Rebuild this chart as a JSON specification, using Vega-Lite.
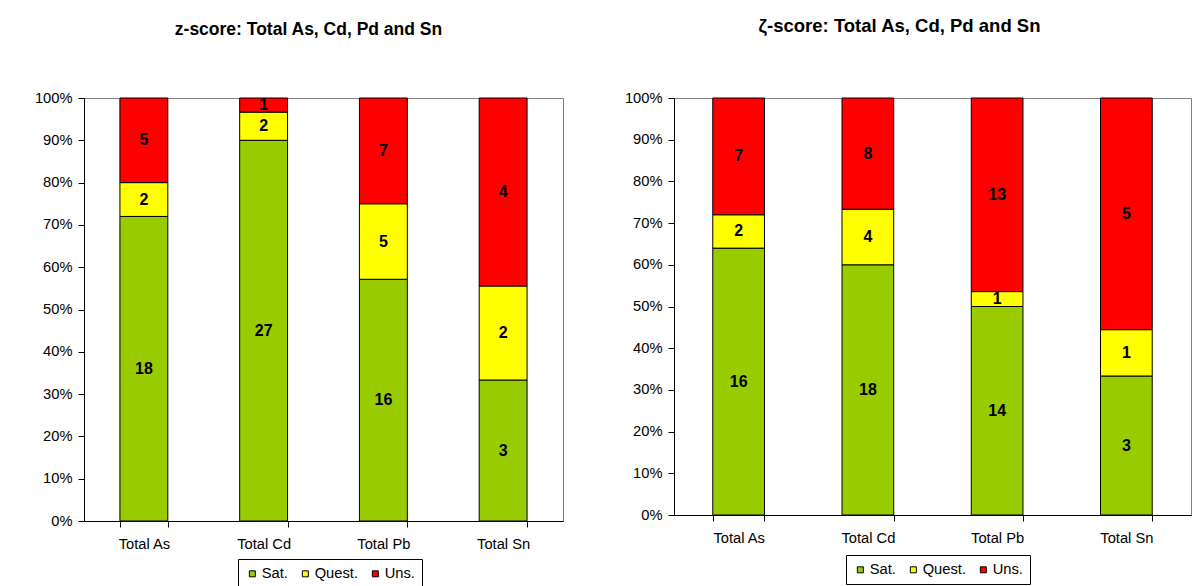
{
  "$schema": "https://vega.github.io/schema/vega-lite/v6.json",
  "padding": {"left": 33, "top": 16, "right": 0, "bottom": 0},
  "background": "white",
  "datasets": {
    "z": [
      {"cat": "Total As", "status": "Sat.", "cls": 1, "n": 18},
      {"cat": "Total As", "status": "Quest.", "cls": 2, "n": 2},
      {"cat": "Total As", "status": "Uns.", "cls": 3, "n": 5},
      {"cat": "Total Cd", "status": "Sat.", "cls": 1, "n": 27},
      {"cat": "Total Cd", "status": "Quest.", "cls": 2, "n": 2},
      {"cat": "Total Cd", "status": "Uns.", "cls": 3, "n": 1},
      {"cat": "Total Pb", "status": "Sat.", "cls": 1, "n": 16},
      {"cat": "Total Pb", "status": "Quest.", "cls": 2, "n": 5},
      {"cat": "Total Pb", "status": "Uns.", "cls": 3, "n": 7},
      {"cat": "Total Sn", "status": "Sat.", "cls": 1, "n": 3},
      {"cat": "Total Sn", "status": "Quest.", "cls": 2, "n": 2},
      {"cat": "Total Sn", "status": "Uns.", "cls": 3, "n": 4}
    ],
    "zeta": [
      {"cat": "Total As", "status": "Sat.", "cls": 1, "n": 16},
      {"cat": "Total As", "status": "Quest.", "cls": 2, "n": 2},
      {"cat": "Total As", "status": "Uns.", "cls": 3, "n": 7},
      {"cat": "Total Cd", "status": "Sat.", "cls": 1, "n": 18},
      {"cat": "Total Cd", "status": "Quest.", "cls": 2, "n": 4},
      {"cat": "Total Cd", "status": "Uns.", "cls": 3, "n": 8},
      {"cat": "Total Pb", "status": "Sat.", "cls": 1, "n": 14},
      {"cat": "Total Pb", "status": "Quest.", "cls": 2, "n": 1},
      {"cat": "Total Pb", "status": "Uns.", "cls": 3, "n": 13},
      {"cat": "Total Sn", "status": "Sat.", "cls": 1, "n": 3},
      {"cat": "Total Sn", "status": "Quest.", "cls": 2, "n": 1},
      {"cat": "Total Sn", "status": "Uns.", "cls": 3, "n": 5}
    ]
  },
  "spacing": 59,
  "resolve": {"scale": {"color": "independent"}, "legend": {"color": "independent"}},
  "hconcat": [
    {
      "data": {"name": "z"},
      "width": 479,
      "height": 423,
      "title": {"text": "z-score: Total As, Cd, Pd and Sn", "dx": -15, "offset": 52},
      "encoding": {
        "x": {"field": "cat", "type": "nominal", "sort": null, "title": null,
              "scale": {"paddingInner": 0.6, "paddingOuter": 0.3},
              "axis": {"labelAngle": 0, "tickBand": "extent", "labelPadding": 9}},
        "y": {"field": "n", "type": "quantitative", "stack": "normalize", "title": null,
              "scale": {"domain": [0, 1]},
              "axis": {"format": "%", "values": [0, 0.1, 0.2, 0.3, 0.4, 0.5, 0.6, 0.7, 0.8, 0.9, 1], "labelPadding": 6}},
        "order": {"field": "cls", "type": "quantitative"}
      },
      "layer": [
        {
          "mark": {"type": "bar", "stroke": "black", "strokeWidth": 1},
          "encoding": {
            "color": {"field": "status", "type": "nominal",
                      "scale": {"domain": ["Sat.", "Quest.", "Uns."], "range": ["#99CC00", "#FFFF00", "#FF0000"]},
                      "legend": {"orient": "none", "legendX": 154, "legendY": 461, "direction": "horizontal", "title": null}}
          }
        },
        {
          "mark": {"type": "text", "fontWeight": "bold", "fontSize": 16, "color": "black", "font": "Liberation Sans"},
          "encoding": {
            "y": {"field": "n", "type": "quantitative", "stack": "normalize", "bandPosition": 0.5},
            "detail": {"field": "status"},
            "text": {"field": "n", "type": "quantitative"}
          }
        }
      ]
    },
    {
      "data": {"name": "zeta"},
      "width": 517,
      "height": 417,
      "title": {"text": "ζ-score: Total As, Cd, Pd and Sn", "dx": -33, "offset": 55, "fontSize": 18.5},
      "encoding": {
        "x": {"field": "cat", "type": "nominal", "sort": null, "title": null,
              "scale": {"paddingInner": 0.6, "paddingOuter": 0.3},
              "axis": {"labelAngle": 0, "tickBand": "extent", "labelPadding": 9}},
        "y": {"field": "n", "type": "quantitative", "stack": "normalize", "title": null,
              "scale": {"domain": [0, 1]},
              "axis": {"format": "%", "values": [0, 0.1, 0.2, 0.3, 0.4, 0.5, 0.6, 0.7, 0.8, 0.9, 1], "labelPadding": 6}},
        "order": {"field": "cls", "type": "quantitative"}
      },
      "layer": [
        {
          "mark": {"type": "bar", "stroke": "black", "strokeWidth": 1},
          "encoding": {
            "color": {"field": "status", "type": "nominal",
                      "scale": {"domain": ["Sat.", "Quest.", "Uns."], "range": ["#99CC00", "#FFFF00", "#FF0000"]},
                      "legend": {"orient": "none", "legendX": 172, "legendY": 457, "direction": "horizontal", "title": null}}
          }
        },
        {
          "mark": {"type": "text", "fontWeight": "bold", "fontSize": 16, "color": "black", "font": "Liberation Sans"},
          "encoding": {
            "y": {"field": "n", "type": "quantitative", "stack": "normalize", "bandPosition": 0.5},
            "detail": {"field": "status"},
            "text": {"field": "n", "type": "quantitative"}
          }
        }
      ]
    }
  ],
  "config": {
    "font": "Liberation Sans",
    "view": {"stroke": "#808080", "strokeWidth": 1},
    "axis": {"labelFont": "Liberation Sans", "labelFontSize": 14.7, "labelColor": "black",
             "domainColor": "black", "tickColor": "black", "tickSize": 6, "grid": false,
             "domainWidth": 1, "tickWidth": 1},
    "legend": {"labelFont": "Liberation Sans", "labelFontSize": 14.7, "labelColor": "black",
               "symbolType": "square", "symbolSize": 36, "symbolStrokeColor": "black", "symbolStrokeWidth": 1,
               "labelOffset": 2, "columnPadding": 10, "padding": 7, "strokeColor": "black", "fillColor": "white",
               "cornerRadius": 0, "symbolOpacity": 1},
    "title": {"font": "Liberation Sans", "fontSize": 17.5, "fontWeight": "bold", "color": "black",
              "anchor": "middle", "frame": "group"}
  }
}
